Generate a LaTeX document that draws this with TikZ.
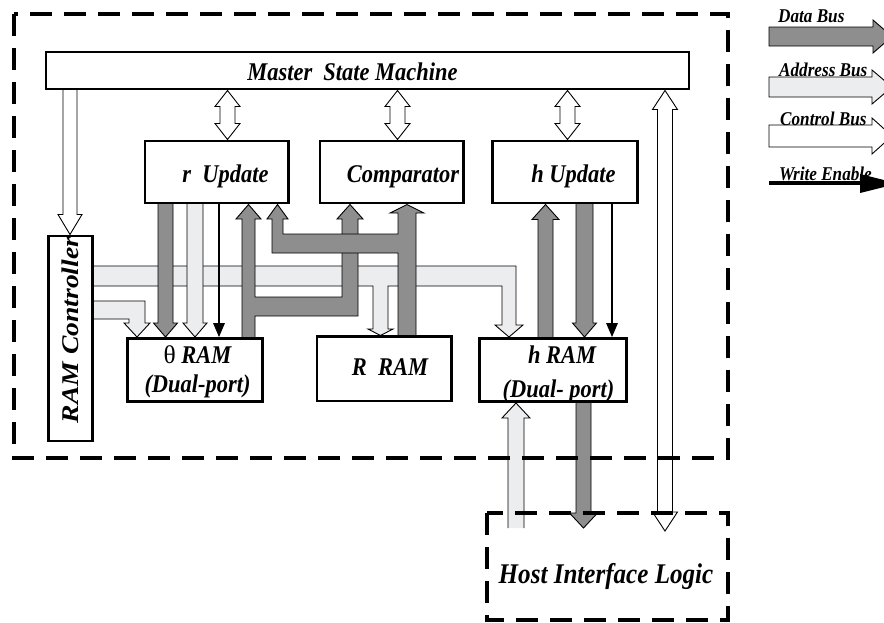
\documentclass[tikz,border=0pt]{standalone}
\usepackage{fontspec}
\setmainfont{Liberation Serif}
\newfontfamily\condfont{Liberation Serif}[FakeStretch=0.88]
\usepackage{graphicx}
\definecolor{dbus}{HTML}{8E8E8E}
\definecolor{abus}{HTML}{ECEDEF}
\tikzset{
  bus/.style={draw=black, line width=0.9pt, line join=miter},
  databus/.style={bus, fill=dbus},
  addrbus/.style={bus, fill=abus},
  ctrlbus/.style={bus, fill=white},
  blk/.style={draw=black, fill=white, line width=2.8pt, inner sep=0pt, rectangle},
  lbl/.style={font=\condfont\fontsize{25.5}{30}\selectfont\bfseries\itshape, anchor=base, inner sep=0pt},
  lgd/.style={font=\condfont\fontsize{19.5}{23}\selectfont\bfseries\itshape, anchor=base west, inner sep=0pt},
  dashbox/.style={draw=black, line width=4pt, dash pattern=on 22pt off 12pt},
  wen/.style={draw=black, line width=1.3pt},
}
% single-headed block arrow: x, tail y, tip y, half shaft, half head, head length
\newcommand\busarr[7][]{%
  \filldraw[#1] ({#2-#5},#3) -- ({#2-#5},{#4-#7*sign(#4-#3)}) -- ({#2-#6},{#4-#7*sign(#4-#3)}) -- (#2,#4) -- ({#2+#6},{#4-#7*sign(#4-#3)}) -- ({#2+#5},{#4-#7*sign(#4-#3)}) -- ({#2+#5},#3);}
% double-headed block arrow: x, tip1 y, tip2 y, half shaft, half head, head length
\newcommand\dbusarr[7][]{%
  \filldraw[#1] ({#2-#5},{#3+#7*sign(#4-#3)}) -- ({#2-#6},{#3+#7*sign(#4-#3)}) -- (#2,#3) -- ({#2+#6},{#3+#7*sign(#4-#3)}) -- ({#2+#5},{#3+#7*sign(#4-#3)}) -- ({#2+#5},{#4-#7*sign(#4-#3)}) -- ({#2+#6},{#4-#7*sign(#4-#3)}) -- (#2,#4) -- ({#2-#6},{#4-#7*sign(#4-#3)}) -- ({#2-#5},{#4-#7*sign(#4-#3)}) -- cycle;}
% write-enable arrow: x, tail y, tip y
\newcommand\wearr[3]{%
  \draw[wen] (#1,#2) -- (#1,{#3-13*sign(#3-#2)});
  \fill[black] ({#1-6},{#3-14*sign(#3-#2)}) -- (#1,#3) -- ({#1+6},{#3-14*sign(#3-#2)}) -- cycle;}
\begin{document}
\begin{tikzpicture}[x=1pt, y=-1pt]
\useasboundingbox (0,0) rectangle (884,622);
\clip (0,0) rectangle (884,622);

% ---- address bus from RAM controller (band A with branch to R RAM) ----
\filldraw[addrbus] (93,266) -- (516,266) -- (516,325) -- (523,325) -- (509,337) -- (495,325) -- (502,325)
  -- (502,286) -- (388,286) -- (388,329) -- (393,329) -- (380.5,335.5) -- (368,329) -- (373,329) -- (373,286) -- (93,286);
% ---- address bus band B to theta RAM ----
\filldraw[addrbus] (93,301) -- (145,301) -- (145,323) -- (150,323) -- (137,337) -- (124,323) -- (129,323) -- (129,319) -- (93,319);

% ---- r Update -> theta RAM ----
\busarr[databus]{165.5}{203}{337}{7.5}{12}{14}
\busarr[addrbus]{195}{203}{337}{8}{12}{14}
\wearr{219}{203}{337}

% ---- theta RAM data -> r Update and Comparator ----
\filldraw[databus] (242,337) -- (242,219) -- (236,219) -- (248.5,204.5) -- (261,219) -- (255,219) -- (255,297)
  -- (342,297) -- (342,219) -- (337,219) -- (350,204.5) -- (363,219) -- (358,219) -- (358,316) -- (255,316) -- (255,337);

% ---- R RAM data -> Comparator and r Update ----
\filldraw[databus] (398,335) -- (398,253) -- (272,253) -- (272,219) -- (267,219) -- (277.5,204.5) -- (288,219) -- (283,219)
  -- (283,234) -- (398,234) -- (398,213) -- (390,213) -- (407,204.5) -- (424,213) -- (416,213) -- (416,335);

% ---- h Update <-> h RAM ----
\busarr[databus]{545.5}{337}{204.5}{7.5}{13.5}{15}
\busarr[databus]{584.5}{203}{337}{8.5}{12}{14}
\wearr{612}{203}{337}

% ---- h RAM <-> Host Interface Logic ----
\busarr[databus]{583.5}{403}{528}{7.5}{14}{15}
\busarr[addrbus]{516}{528}{403}{8}{14}{15}
\dbusarr[ctrlbus]{665}{90.5}{531}{7.5}{12.5}{19}

% ---- control buses from Master State Machine ----
\busarr[ctrlbus]{70}{89}{234.5}{7}{12}{20}
\dbusarr[ctrlbus]{227.5}{90.5}{139.5}{7.5}{12.5}{16}
\dbusarr[ctrlbus]{397.5}{90.5}{139.5}{7.5}{12.5}{16}
\dbusarr[ctrlbus]{567.5}{90.5}{139.5}{7.5}{12.5}{16}

% ---- blocks ----
\node[blk, minimum width=643pt, minimum height=37pt] (msm) at (367.5,70.5) {};
\node[blk, minimum width=143.5pt, minimum height=62pt] (rup) at (216.75,172) {};
\node[blk, minimum width=143.5pt, minimum height=62pt] (cmp) at (391.75,172) {};
\node[blk, minimum width=145pt, minimum height=62pt] (hup) at (565,172) {};
\node[blk, minimum width=44pt, minimum height=205pt] (ramc) at (70.5,338.5) {};
\node[blk, minimum width=135pt, minimum height=63pt] (thram) at (195,370) {};
\node[blk, minimum width=134.5pt, minimum height=64.5pt] (rram) at (384.25,368.75) {};
\node[blk, minimum width=147pt, minimum height=63pt] (hram) at (553,370) {};

% ---- labels ----
\node[lbl] (tmsm) at (352.5,80) {Master\ \ State Machine};
\node[lbl] (trup) at (225.5,182) {r\ \ Update};
\node[lbl] (tcmp) at (403,182) {Comparator};
\node[lbl] (thup) at (573.5,182) {h Update};
\node[lbl] (tth1) at (197.5,363) {{\setmainfont{Liberation Serif}\upshape\mdseries θ} RAM};
\node[lbl] (tth2) at (197.5,392) {(Dual-port)};
\node[lbl] (trr) at (390,375) {R\ \ RAM};
\node[lbl] (thr1) at (562,363) {h RAM};
\node[lbl] (thr2) at (558.5,397) {(Dual- port)};
\node[lbl, font=\condfont\fontsize{28.5}{33}\selectfont\bfseries\itshape] (thost) at (606,583) {Host Interface Logic};
\node[font=\fontsize{24}{28}\selectfont\bfseries\itshape, rotate=90, inner sep=0pt] (tramc) at (70.5,330) {\scalebox{1.15}[1]{RAM Controller}};

% ---- dashed boundaries ----
\draw[dashbox] (14,14) rectangle (728,458);
\draw[dashbox] (487,513) rectangle (728,620);

% ---- legend ----
\filldraw[databus] (769,27) -- (873,27) -- (873,20) -- (892,36.5) -- (873,53) -- (873,46) -- (769,46) -- cycle;
\filldraw[addrbus] (769,77) -- (872,77) -- (872,70) -- (892,87) -- (872,104) -- (872,97) -- (769,97) -- cycle;
\filldraw[ctrlbus] (769,125) -- (872,125) -- (872,118) -- (892,136) -- (872,154) -- (872,147) -- (769,147) -- cycle;
\draw[line width=3.5pt] (769,183) -- (862,183);
\fill[black] (860,174) -- (898,183.5) -- (860,193) -- cycle;
\node[lgd] (ld) at (778,22) {Data Bus};
\node[lgd] (la) at (779,76) {Address Bus};
\node[lgd] (lc) at (780,125) {Control Bus};
\node[lgd] (lw) at (779,180) {Write Enable};
\end{tikzpicture}
\end{document}
